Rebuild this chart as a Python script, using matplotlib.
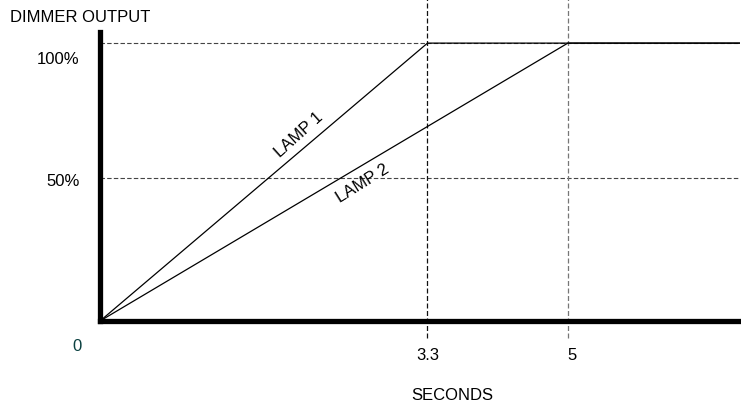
import matplotlib
matplotlib.use("Agg")
import matplotlib.pyplot as plt
from matplotlib.transforms import offset_copy

plt.rcParams['font.family'] = ['Liberation Sans', 'DejaVu Sans']

# Data
lamp_names = ["LAMP 1", "LAMP 2"]
ramp_end = [3.5, 5.0]        # seconds at which each lamp reaches full output (positions in picture)
ramp_tick_labels = ["3.3", "5"]
full_output = 100
x_end = 6.84
y_levels = [100, 51.5]
y_labels = ["100%", "50%"]

FS = 12
fig = plt.figure(figsize=(7.41, 4.06), dpi=100)
W, H = 741, 406
ax = fig.add_axes([100 / W, (H - 322) / H, 640 / W, (322 - 33) / H])
ax.set_xlim(0, x_end)
ax.set_ylim(0, 104)

# horizontal dashed guides
for lv in y_levels:
    ax.axhline(lv, color="#444444", lw=0.8, ls=(0, (4, 2)), zorder=1)

# vertical dashed guides, extending beyond the axes
vcolors = ["#111111", "#777777"]
for xe, c in zip(ramp_end, vcolors):
    ax.axvline(xe, ymin=-0.06, ymax=1.125, color=c, lw=0.9, ls=(0, (4, 2)),
               clip_on=False, zorder=1)

# lamp ramps
for xe in ramp_end:
    ax.plot([0, xe, x_end], [0, full_output, full_output], color="black", lw=0.9, zorder=2)

# lamp labels
ax.text(2.13, 67.3, lamp_names[0], rotation=42,
        ha="center", va="center", fontsize=FS, rotation_mode="anchor")
ax.text(2.81, 50.0, lamp_names[1], rotation=32,
        ha="center", va="center", fontsize=FS, rotation_mode="anchor")

# spines
for s in ["top", "right"]:
    ax.spines[s].set_visible(False)
ax.spines["left"].set_linewidth(3.8)
ax.spines["bottom"].set_linewidth(3.8)
ax.spines["left"].set_capstyle("projecting")
ax.spines["bottom"].set_capstyle("projecting")
ax.set_xticks([])
ax.set_yticks([])

# y labels
offsets = [-11, -2]
for lv, lab, off in zip(y_levels, y_labels, offsets):
    tr = offset_copy(ax.get_yaxis_transform(), fig=fig, x=-14.5, y=off, units="points")
    ax.text(0, lv, lab, transform=tr, ha="right", va="center", fontsize=FS)

# x labels
for xe, lab in zip(ramp_end, ramp_tick_labels):
    tr = offset_copy(ax.transData, fig=fig, x=(3 if lab == "5" else 0), y=-24, units="points")
    ax.text(xe, 0, lab, transform=tr, ha="center", va="center", fontsize=FS)
tr0 = offset_copy(ax.transData, fig=fig, x=-16.5, y=-17.5, units="points")
ax.text(0, 0, "0", transform=tr0, ha="center", va="center", fontsize=FS, color="#0a4040")

fig.text(452 / W, 1 - 396 / H, "SECONDS", ha="center", va="center", fontsize=FS)
fig.text(10 / W, 1 - 18 / H, "DIMMER OUTPUT", ha="left", va="center", fontsize=FS)

fig.savefig("out.png", dpi=100, facecolor="white")
